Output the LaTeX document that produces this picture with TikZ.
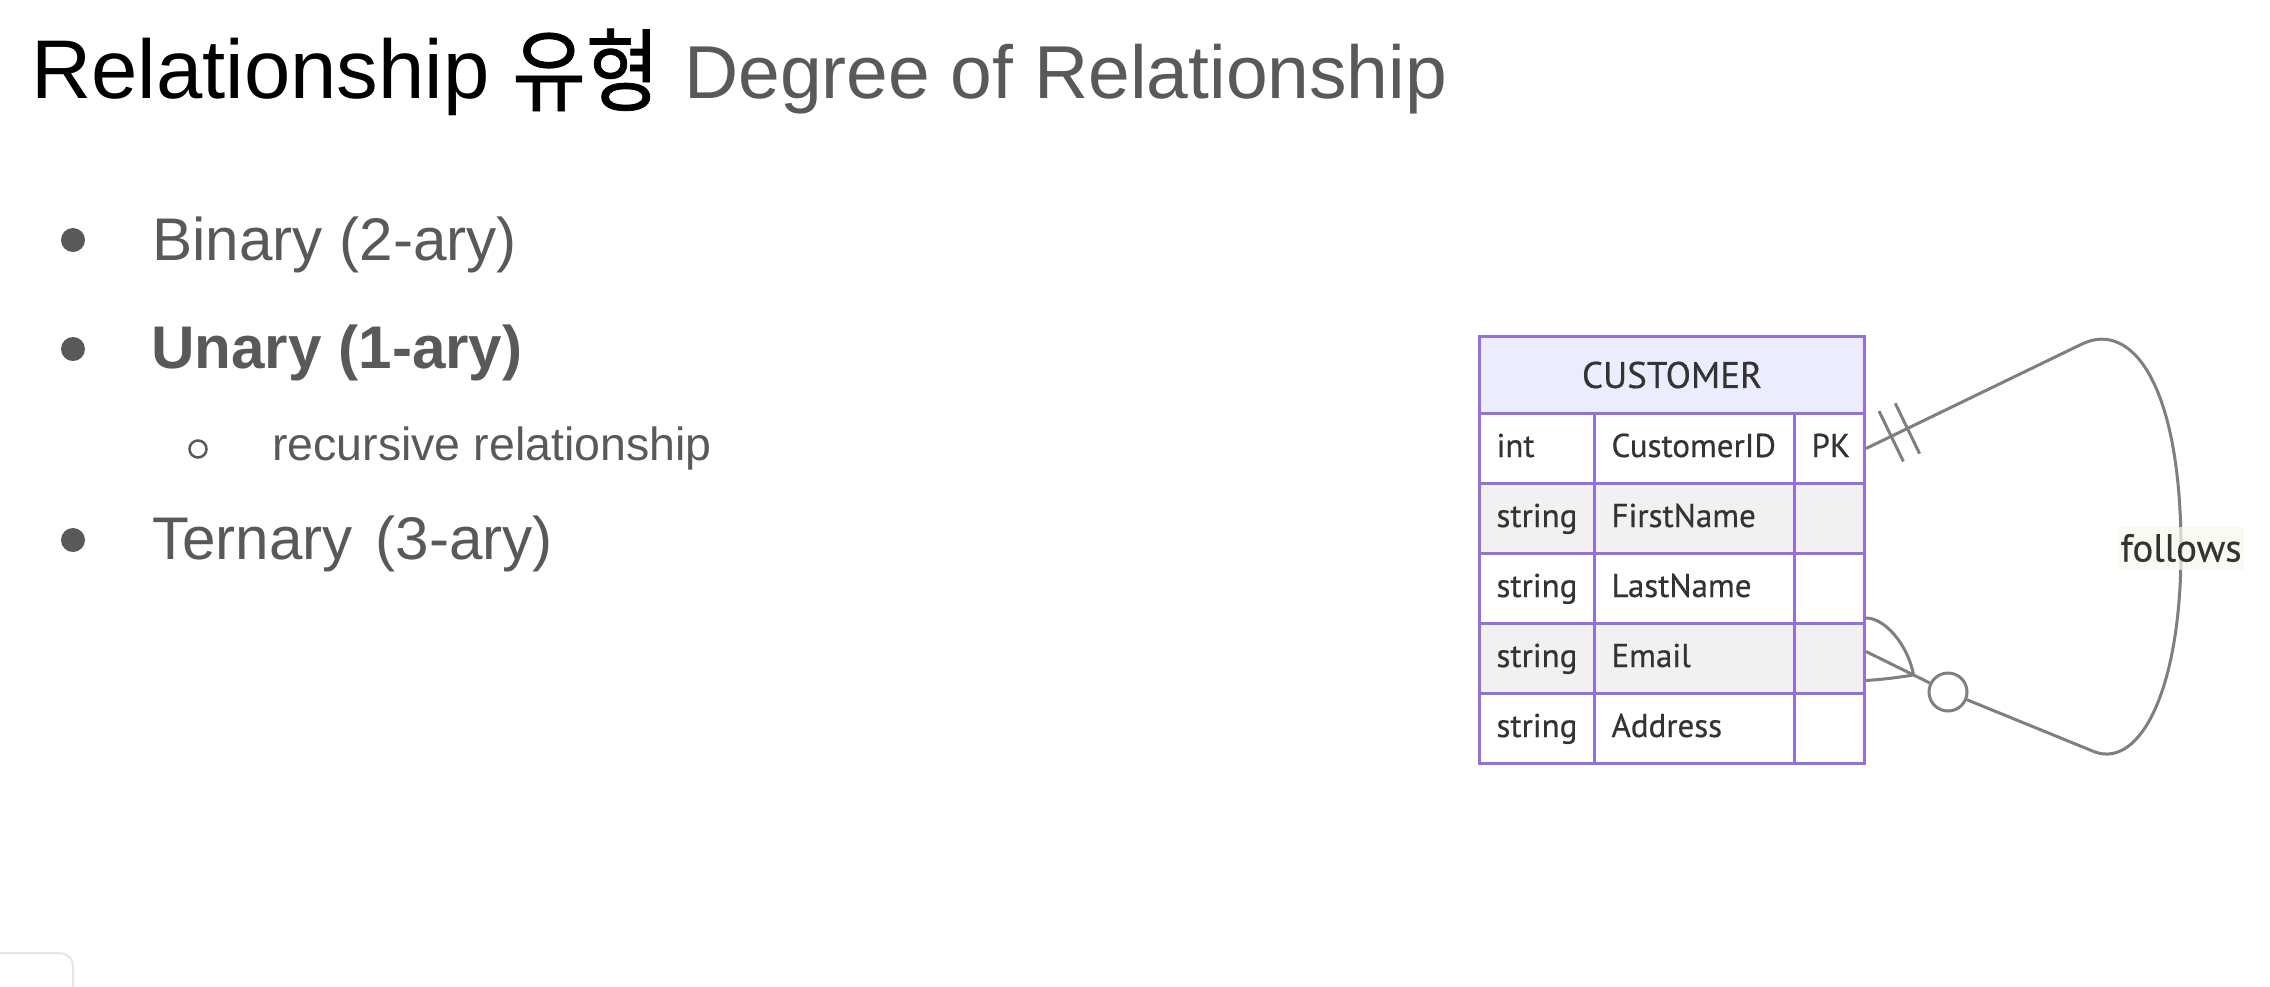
\documentclass[tikz,border=0pt]{standalone}
\usepackage{fontspec}
\usepackage{graphicx}
\setmainfont{Liberation Sans}
\newfontfamily\krfont[FakeBold=0.8]{Noto Sans CJK KR}
\newfontfamily\erfont[FakeBold=0.5]{PT Sans}
\usetikzlibrary{calc}
\definecolor{slidegray}{HTML}{595959}
\definecolor{erline}{HTML}{9370DB}
\definecolor{erhead}{HTML}{ECECFF}
\definecolor{erodd}{HTML}{F1F1F1}
\definecolor{edgegray}{HTML}{7F7F7F}
\definecolor{lblbg}{HTML}{F7FAEE}
\definecolor{ertext}{HTML}{333333}
\definecolor{uigray}{HTML}{E6E6E6}
\begin{document}
\begin{tikzpicture}[x=1pt,y=-1pt,
  item/.style={anchor=base west, inner sep=0pt, text=slidegray, font=\fontsize{60.2}{70}\selectfont},
  bulletdot/.style={circle, fill=slidegray, minimum size=24pt, inner sep=0pt},
  subdot/.style={circle, draw=slidegray, line width=2.5pt, minimum size=17pt, inner sep=0pt},
  hdr/.style={draw=erline, fill=erhead, line width=3pt, anchor=north west, minimum width=385pt, minimum height=77pt, inner sep=0pt, text=ertext, font=\erfont\fontsize{37}{44}\selectfont},
  cell/.style={draw=erline, line width=3pt, anchor=north west, minimum height=70pt, inner xsep=17pt, inner ysep=0pt, text height=24pt, text depth=7pt, align=left, text=ertext, font=\erfont\fontsize{33}{40}\selectfont},
  colA/.style={cell, text width=81pt},
  colB/.style={cell, text width=166pt},
  colC/.style={cell, text width=36pt},
  edge/.style={draw=edgegray, line width=3pt},
  zcircle/.style={circle, draw=edgegray, fill=white, line width=3pt, minimum size=38pt, inner sep=0pt},
  lbl/.style={fill=lblbg, fill opacity=0.7, text opacity=1, text=ertext, minimum width=125pt, minimum height=43pt, inner sep=0pt, font=\erfont\fontsize{39}{44}\selectfont}
]
\fill[white] (0,0) rectangle (2270,986);
\useasboundingbox (0,0) rectangle (2270,986);

% title
\node[anchor=base west, inner sep=0pt, font=\fontsize{83.3}{98}\selectfont] (t1) at (31,98) {Relationship};
\node[anchor=base west, inner sep=0pt, font=\krfont\fontsize{90}{100}\selectfont] (t2) at (512,104) {\scalebox{0.89}[1]{유형}};
\node[anchor=base west, inner sep=0pt, text=slidegray, font=\fontsize{75}{88}\selectfont] (t3) at (684,98) {Degree of Relationship};

% bullets
\node[bulletdot] (d1) at (73,240) {};
\node[item] (i1) at (152,260) {Binary (2-ary)};
\node[bulletdot] (d2) at (73,349) {};
\node[item, font=\fontsize{60.2}{70}\selectfont\bfseries] (i2) at (151,368) {Unary (1-ary)};
\node[subdot] (d2s) at (198,449) {};
\node[item, font=\fontsize{46.5}{56}\selectfont] (i2s) at (272,460) {recursive relationship};
\node[bulletdot] (d3) at (73,540) {};
\node[item] (i3) at (152,559) {Ternary\hspace{6pt} (3-ary)};

% table
\node[hdr] (hdr) at (1478,335) {CUSTOMER};
\node[colA, fill=white] (r1c1) at (1478,412) {int};
\node[colB, fill=white] (r1c2) at (1593,412) {CustomerID};
\node[colC, fill=white] (r1c3) at (1793,412) {PK};
\node[colA, fill=erodd] (r2c1) at (1478,482) {string};
\node[colB, fill=erodd] (r2c2) at (1593,482) {FirstName};
\node[colC, fill=erodd] (r2c3) at (1793,482) {};
\node[colA, fill=white] (r3c1) at (1478,552) {string};
\node[colB, fill=white] (r3c2) at (1593,552) {LastName};
\node[colC, fill=white] (r3c3) at (1793,552) {};
\node[colA, fill=erodd] (r4c1) at (1478,622) {string};
\node[colB, fill=erodd] (r4c2) at (1593,622) {Email};
\node[colC, fill=erodd] (r4c3) at (1793,622) {};
\node[colA, fill=white] (r5c1) at (1478,692) {string};
\node[colB, fill=white] (r5c2) at (1593,692) {Address};
\node[colC, fill=white] (r5c3) at (1793,692) {};

% recursive relationship
\coordinate (s) at (r1c3.east);
\coordinate (a1) at (2082,344);
\coordinate (m) at (2181,550);
\coordinate (b1) at (2095,752);
\node[zcircle] (circ) at (1948,692) {};
\coordinate (fe) at ($(r4c3.east)+(0,-7)$);
\coordinate (v) at ($(fe)!0.58!(circ)$);
\coordinate (ft) at ($(r4c3.north east)+(0,-4)$);
\coordinate (fb) at ($(r4c3.east)+(0,22)$);
\draw[edge] (s) -- (a1) .. controls (2132,320) and (2181,385) .. (m) .. controls (2181,690) and (2140,768) .. (b1) -- (circ);
\draw[edge] (circ) -- (fe);
\draw[edge] (ft) .. controls (1885,618) and (1908,645) .. (v);
\draw[edge] (fb) .. controls (1890,679) and (1906,676) .. (v);
\coordinate (k1) at ($(s)!28pt!(a1)$);
\coordinate (k2) at ($(s)!46pt!(a1)$);
\draw[edge] ($(k1)!28pt!90:(a1)$) -- ($(k1)!28pt!-90:(a1)$);
\draw[edge] ($(k2)!28pt!90:(a1)$) -- ($(k2)!28pt!-90:(a1)$);
\node[lbl] (lab) at (2181,548) {follows};

% corner of a UI element at bottom left
\draw[uigray, line width=2pt, rounded corners=13pt] (-5,953) -- (73,953) -- (73,995);
\end{tikzpicture}
\end{document}
